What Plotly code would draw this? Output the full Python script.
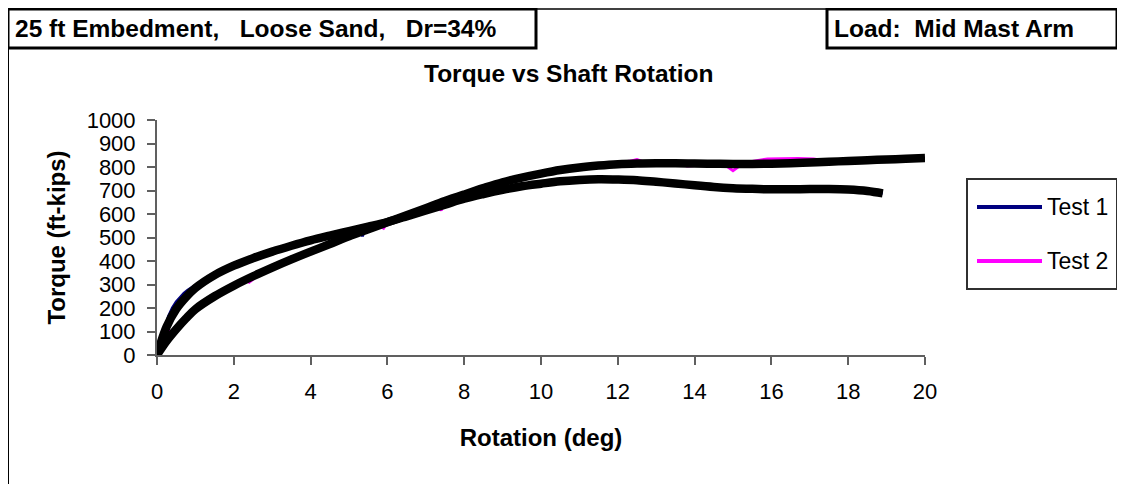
import plotly.graph_objects as go

# ---------------- data ----------------
# Test 1 measured data (navy)
t1_rot = [0, 0.1, 0.2, 0.3, 0.4, 0.5, 0.6, 0.7, 0.8, 0.9, 1.0, 1.2, 1.4, 1.6, 1.8, 2.0, 2.2, 2.5,
          3.0, 3.5, 4.0, 4.5, 5.0, 5.3, 5.35, 5.4, 5.5, 5.6, 6.0, 6.5, 7.0, 7.5, 8.0, 8.5, 9.0,
          9.5, 10.0, 10.5, 11.0, 11.5, 12.0, 12.5, 13.0, 13.5, 14.0, 14.5, 15.0, 15.5, 16.0,
          16.5, 17.0, 17.5, 18.0, 18.5, 18.9]
t1_torque = [0, 60, 110, 165, 200, 226, 246, 262, 276, 288, 297, 318, 338, 353, 367, 378, 386, 412,
             442, 470, 494, 514, 532, 536, 505, 530, 540, 546, 566, 590, 615, 640, 665, 685, 703,
             718, 729, 739, 745, 748, 747, 744, 737, 730, 722, 715, 710, 707, 705,
             705, 706, 706, 704, 698, 688]

# Test 2 measured data (magenta)
t2_rot = [0, 0.1, 0.2, 0.25, 0.3, 0.5, 0.75, 1.0, 1.5, 2.0, 2.3, 2.4, 2.5, 2.7, 2.9, 3.0, 3.5,
          4.0, 4.5, 5.0, 5.5, 5.8, 5.9, 6.0, 6.5, 7.0, 7.3, 7.4, 7.5, 8.0, 8.5, 9.0, 9.5, 10.0,
          10.5, 11.0, 11.5, 12.0, 12.3, 12.5, 12.7, 13.0, 13.4, 13.6, 13.8, 14.2, 14.5, 14.8,
          15.0, 15.2, 15.5, 15.9, 16.3, 16.7, 17.1, 17.5, 18.0, 18.5, 19.0, 19.5, 20.0]
t2_torque = [0, 40, 100, 132, 95, 112, 150, 190, 245, 292, 318, 310, 322, 348, 360, 372, 407,
             440, 472, 505, 535, 550, 540, 565, 595, 625, 640, 615, 655, 683, 710, 735, 755, 772,
             792, 798, 808, 818, 824, 832, 820, 818, 828, 818, 804, 808, 802, 808,
             784, 808, 824, 834, 836, 836, 834, 824, 826, 829, 832, 835, 838]

# Smoothed trend lines (black)
trend1_rot = [0, 0.25, 0.5, 0.75, 1, 1.5, 2, 2.5, 3, 3.5, 4, 4.5, 5, 5.5, 6, 6.5, 7, 7.5, 8, 8.5,
              9, 9.5, 10, 10.5, 11, 11.5, 12, 12.5, 13, 13.5, 14, 14.5, 15, 15.5, 16, 16.5, 17,
              17.5, 18, 18.5, 18.9]
trend1_torque = [0, 120, 195, 245, 285, 340, 380, 412, 440, 465, 488, 508, 527, 546, 566, 590, 615,
                 640, 665, 685, 703, 718, 729, 739, 745, 748, 747, 744, 737, 730, 722, 715, 710,
                 707, 705, 705, 706, 706, 704, 698, 688]

trend2_rot = [0, 0.25, 0.5, 0.75, 1, 1.5, 2, 2.5, 3, 3.5, 4, 4.5, 5, 5.5, 6, 6.5, 7, 7.5, 8, 8.5,
              9, 9.5, 10, 10.5, 11, 11.5, 12, 12.5, 13, 13.5, 14, 14.5, 15, 15.5, 16, 16.5, 17,
              17.5, 18, 18.5, 19, 19.5, 20]
trend2_torque = [0, 60, 110, 155, 195, 250, 295, 335, 372, 407, 440, 472, 505, 535, 565, 595, 625,
                 655, 683, 710, 735, 755, 772, 787, 798, 806, 812, 815, 816, 816, 815, 814, 813,
                 813, 814, 816, 819, 822, 826, 829, 832, 835, 838]

series_names = ["Test 1", "Test 2"]
series_colors = ["#000080", "#FF00FF"]

x_ticks = list(range(0, 21, 2))
y_ticks = list(range(0, 1001, 100))

# ---------------- figure ----------------
# positions below are in page pixels; the page body has an 8px margin
OFF = 8
W, H = 1125 - OFF, 484 - OFF
L, R, T, B = 157, 925, 120, 355   # plot area in page pixels


def px(x):
    return (x - L) / (R - L)


def py(y):
    return (B - y) / (B - T)


FONT = "Liberation Sans, Arial, sans-serif"

fig = go.Figure()
fig.add_trace(go.Scatter(x=t1_rot, y=t1_torque, mode="lines", name=series_names[0],
                         line=dict(color=series_colors[0], width=3), showlegend=False))
fig.add_trace(go.Scatter(x=t2_rot, y=t2_torque, mode="lines", name=series_names[1],
                         line=dict(color=series_colors[1], width=3), showlegend=False))
fig.add_trace(go.Scatter(x=trend1_rot, y=trend1_torque, mode="lines", name="Trend 1",
                         line=dict(color="black", width=8.5, shape="spline"), showlegend=False))
fig.add_trace(go.Scatter(x=trend2_rot, y=trend2_torque, mode="lines", name="Trend 2",
                         line=dict(color="black", width=8.5, shape="spline"), showlegend=False))

axis_color = "#606060"
fig.update_xaxes(range=[0, 20], tickvals=x_ticks, ticks="outside", ticklen=8, tickwidth=2,
                 tickcolor=axis_color, showline=True, linecolor=axis_color, linewidth=2,
                 showgrid=False, zeroline=False, ticklabelstandoff=8,
                 tickfont=dict(family=FONT, size=22, color="black"),
                 title=dict(text="<b>Rotation (deg)</b>", standoff=26,
                            font=dict(family=FONT, size=24, color="black")))
fig.update_yaxes(range=[0, 1000], tickvals=y_ticks, ticks="outside", ticklen=8, tickwidth=2,
                 tickcolor=axis_color, showline=True, linecolor=axis_color, linewidth=2,
                 showgrid=False, zeroline=False, ticklabelstandoff=7,
                 tickfont=dict(family=FONT, size=22, color="black"),
                 title=dict(text="<b>Torque (ft-kips)</b>", standoff=14,
                            font=dict(family=FONT, size=24, color="black")))

shapes = []
# outer frame lines
shapes.append(dict(type="line", xref="paper", yref="paper", x0=px(8), x1=px(8), y0=py(9), y1=py(490),
                   line=dict(color="black", width=2)))
shapes.append(dict(type="line", xref="paper", yref="paper", x0=px(8), x1=px(1130), y0=py(9), y1=py(9),
                   line=dict(color="#404040", width=2)))
# header boxes
shapes.append(dict(type="rect", xref="paper", yref="paper", x0=px(8), x1=px(536), y0=py(48), y1=py(9),
                   line=dict(color="black", width=3), fillcolor="white"))
shapes.append(dict(type="rect", xref="paper", yref="paper", x0=px(827), x1=px(1117), y0=py(48), y1=py(9),
                   line=dict(color="black", width=3), fillcolor="white"))
# legend box and samples
shapes.append(dict(type="rect", xref="paper", yref="paper", x0=px(967), x1=px(1117), y0=py(289), y1=py(179),
                   line=dict(color="#303030", width=2), fillcolor="white"))
legend_y = [207, 261]
for c, yy in zip(series_colors, legend_y):
    shapes.append(dict(type="line", xref="paper", yref="paper", x0=px(977), x1=px(1042), y0=py(yy), y1=py(yy),
                       line=dict(color=c, width=4)))

annotations = []
annotations.append(dict(text="<b>25 ft Embedment,\u00a0\u00a0\u00a0Loose Sand,\u00a0\u00a0\u00a0Dr=34%</b>",
                        xref="paper", yref="paper", x=px(13), y=py(28), xanchor="left", yanchor="middle",
                        showarrow=False, font=dict(family=FONT, size=24.5, color="black")))
annotations.append(dict(text="<b>Load:\u00a0\u00a0Mid Mast Arm</b>",
                        xref="paper", yref="paper", x=px(832), y=py(28), xanchor="left", yanchor="middle",
                        showarrow=False, font=dict(family=FONT, size=24.5, color="black")))
annotations.append(dict(text="<b>Torque vs Shaft Rotation</b>",
                        xref="paper", yref="paper", x=px(568), y=py(74), xanchor="center", yanchor="middle",
                        showarrow=False, font=dict(family=FONT, size=24.5, color="black")))
for name, yy in zip(series_names, legend_y):
    annotations.append(dict(text=name, xref="paper", yref="paper", x=px(1045), y=py(yy),
                            xanchor="left", yanchor="middle", showarrow=False,
                            font=dict(family=FONT, size=23, color="black")))

fig.update_layout(width=W, height=H,
                  margin=dict(l=L - OFF, r=W - (R - OFF), t=T - OFF, b=H - (B - OFF)),
                  paper_bgcolor="white", plot_bgcolor="white", showlegend=False,
                  shapes=shapes, annotations=annotations, font=dict(family=FONT))

fig.write_html("out.html")
